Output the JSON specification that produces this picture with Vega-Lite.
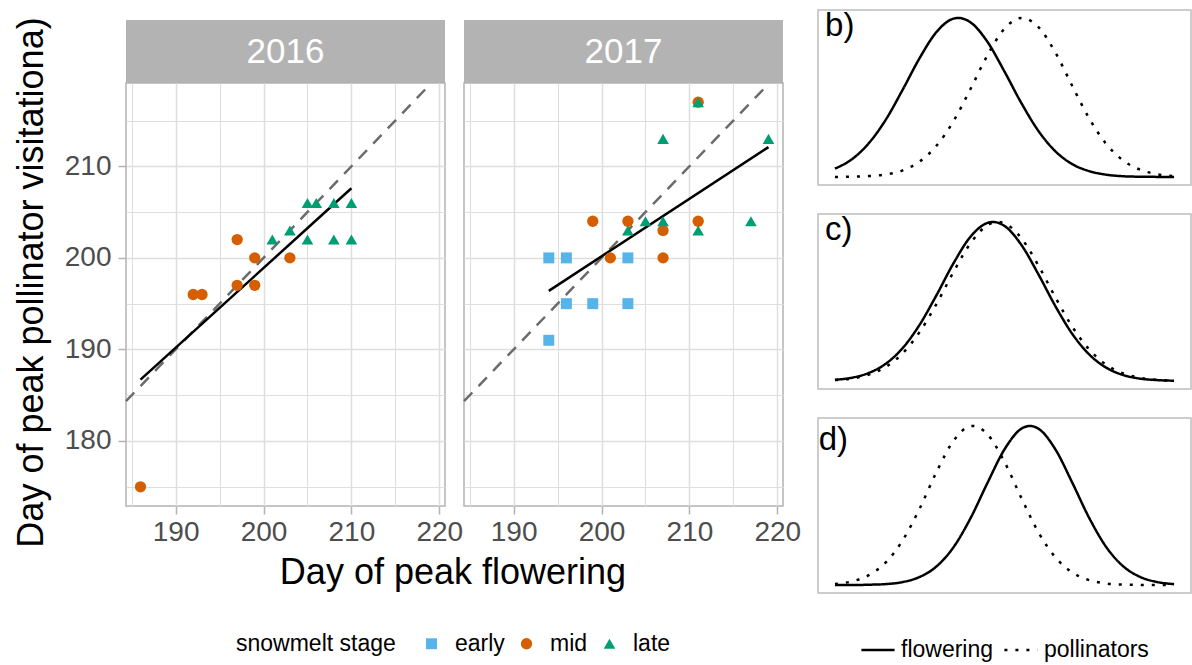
{
  "$schema": "https://vega.github.io/schema/vega-lite/v6.json",
  "padding": {"left": 12, "top": 9, "right": 0, "bottom": 0},
  "config": {
    "font": "Liberation Sans",
    "view": {"stroke": "#B3B3B3", "strokeWidth": 1.5},
    "axis": {"labelFont": "Liberation Sans", "titleFont": "Liberation Sans", "labelColor": "#4D4D4D", "labelFontSize": 28, "tickColor": "#B3B3B3", "tickWidth": 1.5, "tickSize": 8, "domain": false, "gridColor": "#DEDEDE", "titleFontWeight": "normal", "titleColor": "black", "titleFontSize": 36},
    "title": {"font": "Liberation Sans", "fontWeight": "normal", "color": "black", "fontSize": 36},
    "legend": {"labelFont": "Liberation Sans", "titleFont": "Liberation Sans", "labelFontSize": 23, "titleFontSize": 23, "labelColor": "black", "titleColor": "black", "titleFontWeight": "normal"}
  },
  "datasets": {
    "pts": [
      {"year": "2016", "flower": 186, "visit": 175, "stage": "mid"},
      {"year": "2016", "flower": 192, "visit": 196, "stage": "mid"},
      {"year": "2016", "flower": 193, "visit": 196, "stage": "mid"},
      {"year": "2016", "flower": 197, "visit": 202, "stage": "mid"},
      {"year": "2016", "flower": 197, "visit": 197, "stage": "mid"},
      {"year": "2016", "flower": 199, "visit": 200, "stage": "mid"},
      {"year": "2016", "flower": 199, "visit": 197, "stage": "mid"},
      {"year": "2016", "flower": 203, "visit": 200, "stage": "mid"},
      {"year": "2016", "flower": 201, "visit": 202, "stage": "late"},
      {"year": "2016", "flower": 203, "visit": 203, "stage": "late"},
      {"year": "2016", "flower": 205, "visit": 206, "stage": "late"},
      {"year": "2016", "flower": 206, "visit": 206, "stage": "late"},
      {"year": "2016", "flower": 208, "visit": 206, "stage": "late"},
      {"year": "2016", "flower": 210, "visit": 206, "stage": "late"},
      {"year": "2016", "flower": 205, "visit": 202, "stage": "late"},
      {"year": "2016", "flower": 208, "visit": 202, "stage": "late"},
      {"year": "2016", "flower": 210, "visit": 202, "stage": "late"},
      {"year": "2017", "flower": 194, "visit": 200, "stage": "early"},
      {"year": "2017", "flower": 196, "visit": 200, "stage": "early"},
      {"year": "2017", "flower": 203, "visit": 200, "stage": "early"},
      {"year": "2017", "flower": 196, "visit": 195, "stage": "early"},
      {"year": "2017", "flower": 199, "visit": 195, "stage": "early"},
      {"year": "2017", "flower": 203, "visit": 195, "stage": "early"},
      {"year": "2017", "flower": 194, "visit": 191, "stage": "early"},
      {"year": "2017", "flower": 199, "visit": 204, "stage": "mid"},
      {"year": "2017", "flower": 203, "visit": 204, "stage": "mid"},
      {"year": "2017", "flower": 201, "visit": 200, "stage": "mid"},
      {"year": "2017", "flower": 207, "visit": 203, "stage": "mid"},
      {"year": "2017", "flower": 207, "visit": 200, "stage": "mid"},
      {"year": "2017", "flower": 211, "visit": 204, "stage": "mid"},
      {"year": "2017", "flower": 211, "visit": 217, "stage": "mid"},
      {"year": "2017", "flower": 203, "visit": 203, "stage": "late"},
      {"year": "2017", "flower": 205, "visit": 204, "stage": "late"},
      {"year": "2017", "flower": 207, "visit": 204, "stage": "late"},
      {"year": "2017", "flower": 207, "visit": 213, "stage": "late"},
      {"year": "2017", "flower": 211, "visit": 217, "stage": "late"},
      {"year": "2017", "flower": 211, "visit": 203, "stage": "late"},
      {"year": "2017", "flower": 217, "visit": 204, "stage": "late"},
      {"year": "2017", "flower": 219, "visit": 213, "stage": "late"}
    ],
    "fits": [
      {"year": "2016", "flower": 186, "visit": 186.7},
      {"year": "2016", "flower": 210, "visit": 207.6},
      {"year": "2017", "flower": 194, "visit": 196.4},
      {"year": "2017", "flower": 219, "visit": 212.1}
    ],
    "ident": [
      {"flower": 184.35, "visit": 184.35},
      {"flower": 219.1, "visit": 219.1}
    ],
    "labels": [
      {"panel": "b", "label": "b)"},
      {"panel": "c", "label": "c)"},
      {"panel": "d", "label": "d)"}
    ],
    "curves": [
      {"panel": "b", "series": "flowering", "x": 0, "y": 0.053},
      {"panel": "b", "series": "flowering", "x": 5, "y": 0.112},
      {"panel": "b", "series": "flowering", "x": 10, "y": 0.213},
      {"panel": "b", "series": "flowering", "x": 15, "y": 0.361},
      {"panel": "b", "series": "flowering", "x": 20, "y": 0.550},
      {"panel": "b", "series": "flowering", "x": 25, "y": 0.749},
      {"panel": "b", "series": "flowering", "x": 30, "y": 0.913},
      {"panel": "b", "series": "flowering", "x": 35, "y": 0.996},
      {"panel": "b", "series": "flowering", "x": 36.4, "y": 1.000},
      {"panel": "b", "series": "flowering", "x": 40, "y": 0.972},
      {"panel": "b", "series": "flowering", "x": 45, "y": 0.849},
      {"panel": "b", "series": "flowering", "x": 50, "y": 0.663},
      {"panel": "b", "series": "flowering", "x": 55, "y": 0.464},
      {"panel": "b", "series": "flowering", "x": 60, "y": 0.290},
      {"panel": "b", "series": "flowering", "x": 65, "y": 0.162},
      {"panel": "b", "series": "flowering", "x": 70, "y": 0.081},
      {"panel": "b", "series": "flowering", "x": 75, "y": 0.037},
      {"panel": "b", "series": "flowering", "x": 80, "y": 0.015},
      {"panel": "b", "series": "flowering", "x": 85, "y": 0.005},
      {"panel": "b", "series": "flowering", "x": 90, "y": 0.002},
      {"panel": "b", "series": "flowering", "x": 95, "y": 0.001},
      {"panel": "b", "series": "flowering", "x": 100, "y": 0.000},
      {"panel": "b", "series": "pollinators", "x": 0, "y": 0.000},
      {"panel": "b", "series": "pollinators", "x": 5, "y": 0.002},
      {"panel": "b", "series": "pollinators", "x": 10, "y": 0.006},
      {"panel": "b", "series": "pollinators", "x": 15, "y": 0.016},
      {"panel": "b", "series": "pollinators", "x": 20, "y": 0.042},
      {"panel": "b", "series": "pollinators", "x": 25, "y": 0.098},
      {"panel": "b", "series": "pollinators", "x": 30, "y": 0.198},
      {"panel": "b", "series": "pollinators", "x": 35, "y": 0.353},
      {"panel": "b", "series": "pollinators", "x": 40, "y": 0.555},
      {"panel": "b", "series": "pollinators", "x": 45, "y": 0.767},
      {"panel": "b", "series": "pollinators", "x": 50, "y": 0.933},
      {"panel": "b", "series": "pollinators", "x": 55, "y": 1.000},
      {"panel": "b", "series": "pollinators", "x": 60, "y": 0.943},
      {"panel": "b", "series": "pollinators", "x": 65, "y": 0.783},
      {"panel": "b", "series": "pollinators", "x": 70, "y": 0.572},
      {"panel": "b", "series": "pollinators", "x": 75, "y": 0.368},
      {"panel": "b", "series": "pollinators", "x": 80, "y": 0.208},
      {"panel": "b", "series": "pollinators", "x": 85, "y": 0.104},
      {"panel": "b", "series": "pollinators", "x": 90, "y": 0.046},
      {"panel": "b", "series": "pollinators", "x": 95, "y": 0.018},
      {"panel": "b", "series": "pollinators", "x": 100, "y": 0.006},
      {"panel": "c", "series": "flowering", "x": 0, "y": 0.008},
      {"panel": "c", "series": "flowering", "x": 5, "y": 0.021},
      {"panel": "c", "series": "flowering", "x": 10, "y": 0.051},
      {"panel": "c", "series": "flowering", "x": 15, "y": 0.109},
      {"panel": "c", "series": "flowering", "x": 20, "y": 0.208},
      {"panel": "c", "series": "flowering", "x": 25, "y": 0.355},
      {"panel": "c", "series": "flowering", "x": 30, "y": 0.542},
      {"panel": "c", "series": "flowering", "x": 35, "y": 0.742},
      {"panel": "c", "series": "flowering", "x": 40, "y": 0.908},
      {"panel": "c", "series": "flowering", "x": 45, "y": 0.994},
      {"panel": "c", "series": "flowering", "x": 46.6, "y": 1.000},
      {"panel": "c", "series": "flowering", "x": 50, "y": 0.975},
      {"panel": "c", "series": "flowering", "x": 55, "y": 0.855},
      {"panel": "c", "series": "flowering", "x": 60, "y": 0.671},
      {"panel": "c", "series": "flowering", "x": 65, "y": 0.471},
      {"panel": "c", "series": "flowering", "x": 70, "y": 0.296},
      {"panel": "c", "series": "flowering", "x": 75, "y": 0.167},
      {"panel": "c", "series": "flowering", "x": 80, "y": 0.084},
      {"panel": "c", "series": "flowering", "x": 85, "y": 0.038},
      {"panel": "c", "series": "flowering", "x": 90, "y": 0.015},
      {"panel": "c", "series": "flowering", "x": 95, "y": 0.006},
      {"panel": "c", "series": "flowering", "x": 100, "y": 0.002},
      {"panel": "c", "series": "pollinators", "x": 0, "y": 0.006},
      {"panel": "c", "series": "pollinators", "x": 5, "y": 0.016},
      {"panel": "c", "series": "pollinators", "x": 10, "y": 0.040},
      {"panel": "c", "series": "pollinators", "x": 15, "y": 0.089},
      {"panel": "c", "series": "pollinators", "x": 20, "y": 0.175},
      {"panel": "c", "series": "pollinators", "x": 25, "y": 0.309},
      {"panel": "c", "series": "pollinators", "x": 30, "y": 0.487},
      {"panel": "c", "series": "pollinators", "x": 35, "y": 0.687},
      {"panel": "c", "series": "pollinators", "x": 40, "y": 0.867},
      {"panel": "c", "series": "pollinators", "x": 45, "y": 0.980},
      {"panel": "c", "series": "pollinators", "x": 48, "y": 1.000},
      {"panel": "c", "series": "pollinators", "x": 50, "y": 0.991},
      {"panel": "c", "series": "pollinators", "x": 55, "y": 0.897},
      {"panel": "c", "series": "pollinators", "x": 60, "y": 0.726},
      {"panel": "c", "series": "pollinators", "x": 65, "y": 0.526},
      {"panel": "c", "series": "pollinators", "x": 70, "y": 0.341},
      {"panel": "c", "series": "pollinators", "x": 75, "y": 0.198},
      {"panel": "c", "series": "pollinators", "x": 80, "y": 0.103},
      {"panel": "c", "series": "pollinators", "x": 85, "y": 0.048},
      {"panel": "c", "series": "pollinators", "x": 90, "y": 0.020},
      {"panel": "c", "series": "pollinators", "x": 95, "y": 0.007},
      {"panel": "c", "series": "pollinators", "x": 100, "y": 0.003},
      {"panel": "d", "series": "flowering", "x": 0, "y": 0.000},
      {"panel": "d", "series": "flowering", "x": 5, "y": 0.000},
      {"panel": "d", "series": "flowering", "x": 10, "y": 0.002},
      {"panel": "d", "series": "flowering", "x": 15, "y": 0.006},
      {"panel": "d", "series": "flowering", "x": 20, "y": 0.019},
      {"panel": "d", "series": "flowering", "x": 25, "y": 0.051},
      {"panel": "d", "series": "flowering", "x": 30, "y": 0.118},
      {"panel": "d", "series": "flowering", "x": 35, "y": 0.239},
      {"panel": "d", "series": "flowering", "x": 40, "y": 0.421},
      {"panel": "d", "series": "flowering", "x": 45, "y": 0.643},
      {"panel": "d", "series": "flowering", "x": 50, "y": 0.853},
      {"panel": "d", "series": "flowering", "x": 55, "y": 0.983},
      {"panel": "d", "series": "flowering", "x": 57.5, "y": 1.000},
      {"panel": "d", "series": "flowering", "x": 60, "y": 0.983},
      {"panel": "d", "series": "flowering", "x": 65, "y": 0.853},
      {"panel": "d", "series": "flowering", "x": 70, "y": 0.643},
      {"panel": "d", "series": "flowering", "x": 75, "y": 0.421},
      {"panel": "d", "series": "flowering", "x": 80, "y": 0.239},
      {"panel": "d", "series": "flowering", "x": 85, "y": 0.118},
      {"panel": "d", "series": "flowering", "x": 90, "y": 0.051},
      {"panel": "d", "series": "flowering", "x": 95, "y": 0.019},
      {"panel": "d", "series": "flowering", "x": 100, "y": 0.006},
      {"panel": "d", "series": "pollinators", "x": 0, "y": 0.007},
      {"panel": "d", "series": "pollinators", "x": 5, "y": 0.023},
      {"panel": "d", "series": "pollinators", "x": 10, "y": 0.062},
      {"panel": "d", "series": "pollinators", "x": 15, "y": 0.142},
      {"panel": "d", "series": "pollinators", "x": 20, "y": 0.282},
      {"panel": "d", "series": "pollinators", "x": 25, "y": 0.482},
      {"panel": "d", "series": "pollinators", "x": 30, "y": 0.713},
      {"panel": "d", "series": "pollinators", "x": 35, "y": 0.908},
      {"panel": "d", "series": "pollinators", "x": 40, "y": 0.999},
      {"panel": "d", "series": "pollinators", "x": 40.7, "y": 1.000},
      {"panel": "d", "series": "pollinators", "x": 45, "y": 0.947},
      {"panel": "d", "series": "pollinators", "x": 50, "y": 0.774},
      {"panel": "d", "series": "pollinators", "x": 55, "y": 0.546},
      {"panel": "d", "series": "pollinators", "x": 60, "y": 0.332},
      {"panel": "d", "series": "pollinators", "x": 65, "y": 0.174},
      {"panel": "d", "series": "pollinators", "x": 70, "y": 0.079},
      {"panel": "d", "series": "pollinators", "x": 75, "y": 0.031},
      {"panel": "d", "series": "pollinators", "x": 80, "y": 0.010},
      {"panel": "d", "series": "pollinators", "x": 85, "y": 0.003},
      {"panel": "d", "series": "pollinators", "x": 90, "y": 0.001},
      {"panel": "d", "series": "pollinators", "x": 95, "y": 0.000},
      {"panel": "d", "series": "pollinators", "x": 100, "y": 0.000}
    ]
  },
  "resolve": {"scale": {"x": "independent", "y": "independent", "color": "shared", "shape": "shared", "size": "shared", "strokeDash": "shared"}},
  "spacing": 15,
  "hconcat": [
    {
      "spacing": 5,
      "title": {"text": "Day of peak flowering", "orient": "bottom", "anchor": "middle", "offset": 8, "dx": 46},
      "resolve": {"scale": {"x": "independent", "y": "independent"}},
      "vconcat": [
        {
          "width": 655, "height": 1,
          "view": {"stroke": null},
          "data": {"values": [{"label": ""}]},
          "mark": {"type": "text", "fontSize": 1},
          "encoding": {"text": {"field": "label"}}
        },
        {
          "spacing": -6,
          "resolve": {"scale": {"x": "independent", "y": "independent"}},
          "hconcat": [
            {
              "spacing": 0,
              "bounds": "flush",
              "resolve": {"scale": {"x": "independent", "y": "independent"}},
              "vconcat": [
                {
                  "width": 319, "height": 63,
                  "view": {"stroke": null},
                  "data": {"values": [{"year": "2016"}]},
                  "layer": [
                    {"mark": {"type": "rect", "color": "#B3B3B3"},
                     "encoding": {
                       "x": {"field": "year", "type": "nominal", "scale": {"paddingInner": 0, "paddingOuter": 0}, "axis": null},
                       "y": {"field": "year", "type": "nominal", "scale": {"paddingInner": 0, "paddingOuter": 0}, "axis": null}}},
                    {"mark": {"type": "text", "color": "white", "fontSize": 35},
                     "encoding": {"x": {"field": "year", "type": "nominal"}, "y": {"field": "year", "type": "nominal"}, "text": {"field": "year"}}}
                  ]
                },
                {
                  "width": 319, "height": 423,
                  "layer": [
                    {"data": {"name": "ident"},
                     "mark": {"type": "line", "color": "#6B6B6B", "strokeWidth": 2.5, "strokeDash": [12, 9]},
                     "encoding": {
                       "x": {"field": "flower", "type": "quantitative", "scale": {"domain": [184.35, 220.65], "nice": false, "zero": false},
                             "axis": {"values": [185, 190, 195, 200, 205, 210, 215, 220], "title": null, "labelExpr": "datum.value % 10 === 0 ? datum.label : ''", "labelFlush": false, "labelOverlap": false, "labelPadding": 4,
                                      "tickOpacity": {"condition": {"test": "datum.value % 10 === 0", "value": 1}, "value": 0},
                                      "gridWidth": {"condition": {"test": "datum.value % 10 === 0", "value": 1.5}, "value": 1}}},
                       "y": {"field": "visit", "type": "quantitative", "scale": {"domain": [172.9, 219.1], "nice": false, "zero": false},
                             "axis": {"values": [175, 180, 185, 190, 195, 200, 205, 210, 215], "title": "Day of peak pollinator visitationa)", "titleY": 199, "labelExpr": "datum.value % 10 === 0 ? datum.label : ''", "labelFlush": false, "labelOverlap": false, "labelPadding": 7, "titlePadding": 14,
                                      "tickOpacity": {"condition": {"test": "datum.value % 10 === 0", "value": 1}, "value": 0},
                                      "gridWidth": {"condition": {"test": "datum.value % 10 === 0", "value": 1.5}, "value": 1}}}
                     }},
                    {"data": {"name": "fits"}, "transform": [{"filter": "datum.year === '2016'"}],
                     "mark": {"type": "line", "color": "black", "strokeWidth": 2.5},
                     "encoding": {"x": {"field": "flower", "type": "quantitative"}, "y": {"field": "visit", "type": "quantitative"}}},
                    {"data": {"name": "pts"}, "transform": [{"filter": "datum.year === '2016'"}],
                     "mark": {"type": "point", "filled": true, "opacity": 1},
                     "encoding": {
                       "x": {"field": "flower", "type": "quantitative"},
                       "y": {"field": "visit", "type": "quantitative"},
                       "size": {"field": "stage", "type": "nominal", "scale": {"domain": ["early", "mid", "late"], "range": [120, 135, 200]}, "legend": null},
                       "color": {"field": "stage", "type": "nominal", "scale": {"domain": ["early", "mid", "late"], "range": ["#56B4E9", "#D55E00", "#009E73"]},
                                 "legend": {"title": "snowmelt stage", "orient": "none", "legendX": 110, "legendY": 622, "direction": "horizontal", "titleOrient": "left", "titlePadding": 24, "labelOffset": 12, "columnPadding": 10, "symbolSize": 150}},
                       "shape": {"field": "stage", "type": "nominal", "scale": {"domain": ["early", "mid", "late"], "range": ["square", "circle", "triangle-up"]},
                                 "legend": {"title": "snowmelt stage", "orient": "none", "legendX": 110, "legendY": 622, "direction": "horizontal", "titleOrient": "left", "titlePadding": 24, "labelOffset": 12, "columnPadding": 10, "symbolSize": 150}}
                     }}
                  ]
                }
              ]
            },
            {
              "spacing": 0,
              "bounds": "flush",
              "resolve": {"scale": {"x": "independent", "y": "independent"}},
              "vconcat": [
                {
                  "width": 319, "height": 63,
                  "view": {"stroke": null},
                  "data": {"values": [{"year": "2017"}]},
                  "layer": [
                    {"mark": {"type": "rect", "color": "#B3B3B3"},
                     "encoding": {
                       "x": {"field": "year", "type": "nominal", "scale": {"paddingInner": 0, "paddingOuter": 0}, "axis": null},
                       "y": {"field": "year", "type": "nominal", "scale": {"paddingInner": 0, "paddingOuter": 0}, "axis": null}}},
                    {"mark": {"type": "text", "color": "white", "fontSize": 35},
                     "encoding": {"x": {"field": "year", "type": "nominal"}, "y": {"field": "year", "type": "nominal"}, "text": {"field": "year"}}}
                  ]
                },
                {
                  "width": 319, "height": 423,
                  "layer": [
                    {"data": {"name": "ident"},
                     "mark": {"type": "line", "color": "#6B6B6B", "strokeWidth": 2.5, "strokeDash": [12, 9]},
                     "encoding": {
                       "x": {"field": "flower", "type": "quantitative", "scale": {"domain": [184.35, 220.65], "nice": false, "zero": false},
                             "axis": {"values": [185, 190, 195, 200, 205, 210, 215, 220], "title": null, "labelExpr": "datum.value % 10 === 0 ? datum.label : ''", "labelFlush": false, "labelOverlap": false, "labelPadding": 4,
                                      "tickOpacity": {"condition": {"test": "datum.value % 10 === 0", "value": 1}, "value": 0},
                                      "gridWidth": {"condition": {"test": "datum.value % 10 === 0", "value": 1.5}, "value": 1}}},
                       "y": {"field": "visit", "type": "quantitative", "scale": {"domain": [172.9, 219.1], "nice": false, "zero": false},
                             "axis": {"values": [175, 180, 185, 190, 195, 200, 205, 210, 215], "title": null, "labels": false, "ticks": false,
                                      "gridWidth": {"condition": {"test": "datum.value % 10 === 0", "value": 1.5}, "value": 1}}}
                     }},
                    {"data": {"name": "fits"}, "transform": [{"filter": "datum.year === '2017'"}],
                     "mark": {"type": "line", "color": "black", "strokeWidth": 2.5},
                     "encoding": {"x": {"field": "flower", "type": "quantitative"}, "y": {"field": "visit", "type": "quantitative"}}},
                    {"data": {"name": "pts"}, "transform": [{"filter": "datum.year === '2017'"}],
                     "mark": {"type": "point", "filled": true, "opacity": 1},
                     "encoding": {
                       "x": {"field": "flower", "type": "quantitative"},
                       "y": {"field": "visit", "type": "quantitative"},
                       "size": {"field": "stage", "type": "nominal", "scale": {"domain": ["early", "mid", "late"], "range": [120, 135, 200]}, "legend": null},
                       "color": {"field": "stage", "type": "nominal", "scale": {"domain": ["early", "mid", "late"], "range": ["#56B4E9", "#D55E00", "#009E73"]},
                                 "legend": {"title": "snowmelt stage", "orient": "none", "legendX": 110, "legendY": 622, "direction": "horizontal", "titleOrient": "left", "titlePadding": 24, "labelOffset": 12, "columnPadding": 10, "symbolSize": 150}},
                       "shape": {"field": "stage", "type": "nominal", "scale": {"domain": ["early", "mid", "late"], "range": ["square", "circle", "triangle-up"]},
                                 "legend": {"title": "snowmelt stage", "orient": "none", "legendX": 110, "legendY": 622, "direction": "horizontal", "titleOrient": "left", "titlePadding": 24, "labelOffset": 12, "columnPadding": 10, "symbolSize": 150}}
                     }}
                  ]
                }
              ]
            }
          ]
        }
      ]
    },
    {
      "spacing": 27,
      "resolve": {"scale": {"x": "independent", "y": "independent"}},
      "vconcat": [
        {
          "width": 373, "height": 175,
          "view": {"stroke": "#BDBDBD", "strokeWidth": 1.5},
          "layer": [
            {"data": {"name": "curves"}, "transform": [{"filter": "datum.panel === 'b'"}],
             "mark": {"type": "line", "color": "black", "strokeWidth": 2.5, "interpolate": "monotone", "strokeCap": "butt"},
             "encoding": {
               "x": {"field": "x", "type": "quantitative", "scale": {"domain": [-5, 105], "nice": false, "zero": false}, "axis": null},
               "y": {"field": "y", "type": "quantitative", "scale": {"domain": [-0.05, 1.05], "nice": false, "zero": false}, "axis": null},
               "strokeDash": {"field": "series", "type": "nominal", "scale": {"domain": ["flowering", "pollinators"], "range": [[1, 0], [3, 8]]},
                              "legend": {"title": null, "orient": "none", "legendX": 734, "legendY": 622, "direction": "horizontal", "gridAlign": "none", "symbolType": "stroke", "symbolStrokeColor": "black", "symbolStrokeWidth": 2.5, "symbolSize": 1100, "labelOffset": 5, "columnPadding": 5}}
             }},
            {"data": {"name": "labels"}, "transform": [{"filter": "datum.panel === 'b'"}],
             "mark": {"type": "text", "align": "left", "baseline": "top", "fontSize": 33, "color": "black"},
             "encoding": {"x": {"datum": -2.9}, "y": {"datum": 1.05}, "text": {"field": "label"}}}
          ]
        },
        {
          "width": 373, "height": 175,
          "view": {"stroke": "#BDBDBD", "strokeWidth": 1.5},
          "layer": [
            {"data": {"name": "curves"}, "transform": [{"filter": "datum.panel === 'c'"}],
             "mark": {"type": "line", "color": "black", "strokeWidth": 2.5, "interpolate": "monotone", "strokeCap": "butt"},
             "encoding": {
               "x": {"field": "x", "type": "quantitative", "scale": {"domain": [-5, 105], "nice": false, "zero": false}, "axis": null},
               "y": {"field": "y", "type": "quantitative", "scale": {"domain": [-0.05, 1.05], "nice": false, "zero": false}, "axis": null},
               "strokeDash": {"field": "series", "type": "nominal", "scale": {"domain": ["flowering", "pollinators"], "range": [[1, 0], [3, 8]]},
                              "legend": {"title": null, "orient": "none", "legendX": 734, "legendY": 622, "direction": "horizontal", "gridAlign": "none", "symbolType": "stroke", "symbolStrokeColor": "black", "symbolStrokeWidth": 2.5, "symbolSize": 1100, "labelOffset": 5, "columnPadding": 5}}
             }},
            {"data": {"name": "labels"}, "transform": [{"filter": "datum.panel === 'c'"}],
             "mark": {"type": "text", "align": "left", "baseline": "top", "fontSize": 33, "color": "black"},
             "encoding": {"x": {"datum": -2.9}, "y": {"datum": 1.05}, "text": {"field": "label"}}}
          ]
        },
        {
          "width": 373, "height": 175,
          "view": {"stroke": "#BDBDBD", "strokeWidth": 1.5},
          "layer": [
            {"data": {"name": "curves"}, "transform": [{"filter": "datum.panel === 'd'"}],
             "mark": {"type": "line", "color": "black", "strokeWidth": 2.5, "interpolate": "monotone", "strokeCap": "butt"},
             "encoding": {
               "x": {"field": "x", "type": "quantitative", "scale": {"domain": [-5, 105], "nice": false, "zero": false}, "axis": null},
               "y": {"field": "y", "type": "quantitative", "scale": {"domain": [-0.05, 1.05], "nice": false, "zero": false}, "axis": null},
               "strokeDash": {"field": "series", "type": "nominal", "scale": {"domain": ["flowering", "pollinators"], "range": [[1, 0], [3, 8]]},
                              "legend": {"title": null, "orient": "none", "legendX": 734, "legendY": 622, "direction": "horizontal", "gridAlign": "none", "symbolType": "stroke", "symbolStrokeColor": "black", "symbolStrokeWidth": 2.5, "symbolSize": 1100, "labelOffset": 5, "columnPadding": 5}}
             }},
            {"data": {"name": "labels"}, "transform": [{"filter": "datum.panel === 'd'"}],
             "mark": {"type": "text", "align": "left", "baseline": "top", "fontSize": 33, "color": "black"},
             "encoding": {"x": {"datum": -4.8}, "y": {"datum": 1.015}, "text": {"field": "label"}}}
          ]
        }
      ]
    }
  ]
}
